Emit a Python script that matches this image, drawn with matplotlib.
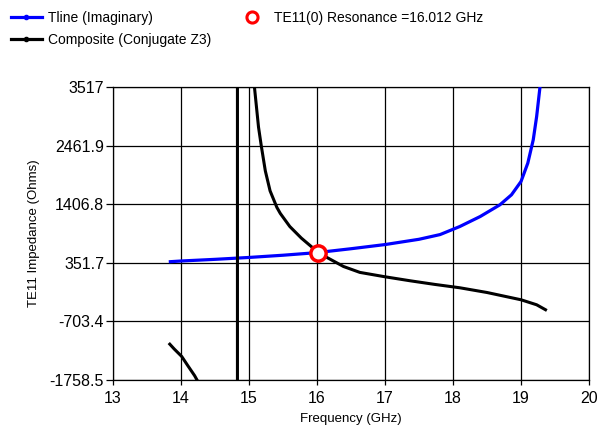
import numpy as np
import matplotlib
matplotlib.use("Agg")
import matplotlib.pyplot as plt
from matplotlib.lines import Line2D

plt.rcParams['font.family'] = ['Liberation Sans', 'DejaVu Sans']

# Tline (Imaginary) impedance vs frequency
tline_freq = [13.82, 14.0, 14.5, 15.0, 15.5, 16.0, 16.5, 17.0, 17.5, 17.81, 18.1,
              18.4, 18.69, 18.86, 19.0, 19.1, 19.18, 19.23, 19.28, 19.3]
tline_imag = [370, 384, 414, 448, 488, 535, 605, 680, 775, 860, 1005,
              1185, 1396, 1576, 1815, 2146, 2566, 2985, 3525, 3800]

# Composite (Conjugate Z3); NaN separates branches
comp_freq = [13.82, 13.9, 14.01, 14.1, 14.2, 14.3, np.nan,
             14.83, 14.83, np.nan,
             15.06, 15.08, 15.14, 15.18, 15.24, 15.31, 15.41, 15.46, 15.60, 15.77,
             15.92, 16.02, 16.12, 16.39, 16.63, 17.0, 17.37, 17.73, 18.1, 18.5,
             19.0, 19.23, 19.38]
comp_vals = [-1093, -1200, -1334, -1500, -1680, -1900, np.nan,
             -5000, 6000, np.nan,
             3750, 3517, 2794, 2462, 2007, 1647, 1349, 1241, 1005, 796,
             640, 535, 465, 285, 179, 100, 28, -37, -98, -183,
             -314, -404, -507]

# Resonance point
res_freq = [16.012]
res_val = [535]

y_ticks = [3517, 2461.9, 1406.8, 351.7, -703.4, -1758.5]
y_tick_labels = ["3517", "2461.9", "1406.8", "351.7", "-703.4", "-1758.5"]
x_ticks = [13, 14, 15, 16, 17, 18, 19, 20]

fig = plt.figure(figsize=(5.98, 4.36), dpi=100)
ax = fig.add_axes([113/598, 1-380/436, (589-113)/598, (380-87)/436])

ax.plot(tline_freq, tline_imag, color='#0000ff', lw=2.3, zorder=3,
        solid_capstyle='butt', solid_joinstyle='round')
ax.plot(comp_freq, comp_vals, color='black', lw=2.2, zorder=3,
        solid_capstyle='butt', solid_joinstyle='round')
ax.plot(res_freq, res_val, 'o', ms=11, mfc='white', mec='#ff0000', mew=2.5, zorder=4)

ax.set_xlim(13, 20)
ax.set_ylim(-1758.5, 3517)
ax.set_xticks(x_ticks)
ax.set_yticks(y_ticks)
ax.set_yticklabels(y_tick_labels)
ax.grid(True, color='black', lw=0.9)
ax.set_axisbelow(True)
for s in ax.spines.values():
    s.set_color('black')
    s.set_linewidth(0.9)
ax.tick_params(axis='both', direction='out', width=0.9, labelsize=11.5,
               colors='black')
ax.tick_params(axis='y', length=5, pad=1.5)
ax.tick_params(axis='x', length=3.6, pad=4.5)
ax.set_xlabel("Frequency (GHz)", fontsize=9.5, labelpad=5)
ax.set_ylabel("TE11 Impedance (Ohms)", fontsize=9.5, labelpad=7)

handles = [
    Line2D([], [], color='#0000ff', lw=2.3, marker='o', ms=3),
    Line2D([], [], color='black', lw=2.3, marker='o', ms=3),
    Line2D([], [], ls='none', marker='o', ms=8, mfc='white', mec='#ff0000', mew=2.2),
]
labels = ["Tline (Imaginary)", "Composite (Conjugate Z3)", "TE11(0) Resonance =16.012 GHz"]
fig.legend(handles, labels, ncol=2, loc='upper left', bbox_to_anchor=(11/598, 1-11/436),
           frameon=False, fontsize=10, handlelength=2.2, handletextpad=0.5,
           columnspacing=1.8, labelspacing=0.55, borderpad=0, borderaxespad=0)

fig.savefig("out.png", dpi=100)
